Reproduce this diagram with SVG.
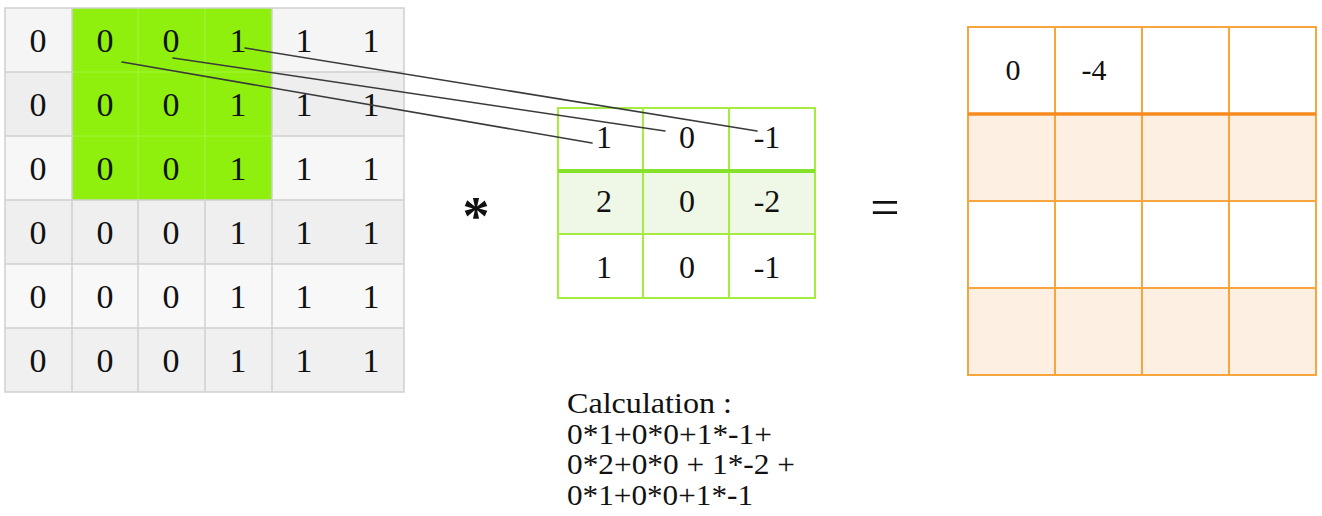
<svg xmlns="http://www.w3.org/2000/svg" width="1322" height="516" viewBox="0 0 1322 516">
<style>
.t{font-family:"Liberation Serif","Times New Roman",serif;fill:#111;text-anchor:middle}
.gl{stroke:#d0d0d0;stroke-width:1.5;fill:none}
.gf{stroke:#a6f53e;stroke-width:1;fill:none}
.kl{stroke:#a6ec40;stroke-width:2;fill:none}
.ol{stroke:#f7a53c;stroke-width:2;fill:none}
.conn{stroke:#3a3a3a;stroke-width:1.6;fill:none;stroke-linecap:round}
.calc{font-family:"Liberation Serif","Times New Roman",serif;fill:#111}
.op{font-family:"Liberation Serif","Times New Roman",serif;fill:#111;text-anchor:middle}
</style>
<rect width="1322" height="516" fill="#ffffff"/>
<g id="input-grid">
  <rect x="5" y="8" width="399" height="64" fill="#f5f5f5"/>
  <rect x="5" y="72" width="399" height="64" fill="#eeeeee"/>
  <rect x="5" y="136" width="399" height="64" fill="#f7f7f7"/>
  <rect x="5" y="200" width="399" height="64" fill="#efefef"/>
  <rect x="5" y="264" width="399" height="64" fill="#f8f8f8"/>
  <rect x="5" y="328" width="399" height="64" fill="#f0f0f0"/>
  <rect x="72" y="8" width="200" height="192" fill="#8ef00c"/>
  <path class="gf" d="M138 8V200M205 8V200M72 72H272M72 136H272"/>
  <path class="gl" d="M5 8H404V392H5ZM72 8V392M272 8V392M138 200V392M205 200V392M5 72H72M272 72H404M5 136H72M272 136H404M5 200H404M5 264H404M5 328H404"/>
  <g font-size="34">
    <text class="t" x="38" y="52">0</text><text class="t" x="105" y="52">0</text><text class="t" x="171" y="52">0</text><text class="t" x="238" y="52">1</text><text class="t" x="304" y="52">1</text><text class="t" x="371" y="52">1</text>
    <text class="t" x="38" y="116">0</text><text class="t" x="105" y="116">0</text><text class="t" x="171" y="116">0</text><text class="t" x="238" y="116">1</text><text class="t" x="304" y="116">1</text><text class="t" x="371" y="116">1</text>
    <text class="t" x="38" y="180">0</text><text class="t" x="105" y="180">0</text><text class="t" x="171" y="180">0</text><text class="t" x="238" y="180">1</text><text class="t" x="304" y="180">1</text><text class="t" x="371" y="180">1</text>
    <text class="t" x="38" y="244">0</text><text class="t" x="105" y="244">0</text><text class="t" x="171" y="244">0</text><text class="t" x="238" y="244">1</text><text class="t" x="304" y="244">1</text><text class="t" x="371" y="244">1</text>
    <text class="t" x="38" y="308">0</text><text class="t" x="105" y="308">0</text><text class="t" x="171" y="308">0</text><text class="t" x="238" y="308">1</text><text class="t" x="304" y="308">1</text><text class="t" x="371" y="308">1</text>
    <text class="t" x="38" y="372">0</text><text class="t" x="105" y="372">0</text><text class="t" x="171" y="372">0</text><text class="t" x="238" y="372">1</text><text class="t" x="304" y="372">1</text><text class="t" x="371" y="372">1</text>
  </g>
</g>
<g id="kernel">
  <rect x="558" y="108" width="257" height="190" fill="#ffffff"/>
  <rect x="558" y="171" width="257" height="63" fill="#eff8e7"/>
  <path class="kl" d="M558 108H815V298H558ZM643 108V298M729 108V298M558 234H815"/>
  <path d="M558 171H815" stroke="#84e22a" stroke-width="4"/>
  <g font-size="32">
  <text class="t" x="604" y="148">1</text><text class="t" x="687" y="148">0</text><text class="t" x="767" y="148">-1</text>
  <text class="t" x="604" y="212">2</text><text class="t" x="687" y="212">0</text><text class="t" x="767" y="212">-2</text>
  <text class="t" x="604" y="278">1</text><text class="t" x="687" y="278">0</text><text class="t" x="767" y="278">-1</text>
  </g>
</g>
<g id="output-grid">
  <rect x="968" y="27" width="348" height="348" fill="#ffffff"/>
  <rect x="968" y="114" width="348" height="87" fill="#fdf0e3"/>
  <rect x="968" y="288" width="348" height="87" fill="#fdf0e3"/>
  <path class="ol" d="M968 27H1316V375H968ZM1055 27V375M1142 27V375M1229 27V375M968 201H1316M968 288H1316"/>
  <path d="M968 114H1316" stroke="#f78b20" stroke-width="3.5"/>
  <g font-size="30">
  <text class="t" x="1013" y="80">0</text><text class="t" x="1094" y="80">-4</text>
  </g>
</g>
<g id="operator-multiply">
  <text class="op" x="476" y="234" font-size="54" font-weight="bold">*</text>
</g>
<g id="operator-equals">
  <text class="op" x="885" y="225" font-size="52">=</text>
</g>
<g id="calculation" font-size="29">
  <text class="calc" x="567" y="413" textLength="165" lengthAdjust="spacingAndGlyphs">Calculation :</text>
  <text class="calc" x="567" y="444" textLength="205" lengthAdjust="spacingAndGlyphs">0*1+0*0+1*-1+</text>
  <text class="calc" x="567" y="474" textLength="228" lengthAdjust="spacingAndGlyphs">0*2+0*0 + 1*-2 +</text>
  <text class="calc" x="567" y="505" textLength="186" lengthAdjust="spacingAndGlyphs">0*1+0*0+1*-1</text>
</g>
<g id="connectors">
  <line class="conn" x1="245" y1="48" x2="757" y2="131"/>
  <line class="conn" x1="173" y1="58" x2="665" y2="131"/>
  <line class="conn" x1="122" y1="62" x2="592" y2="143"/>
</g>
</svg>
